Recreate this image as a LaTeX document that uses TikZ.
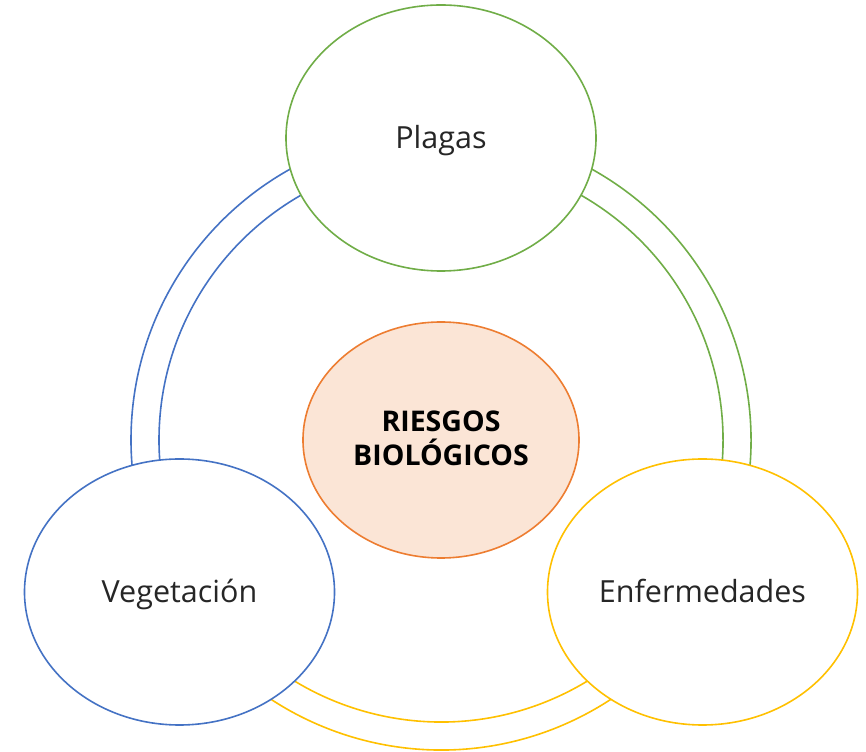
\documentclass[tikz,border=0pt]{standalone}
\usepackage{fontspec}
\setmainfont{Open Sans}
\usetikzlibrary{shapes.geometric,backgrounds}
\definecolor{cblue}{HTML}{4472C4}
\definecolor{cgreen}{HTML}{70AD47}
\definecolor{cyellow}{HTML}{FFC000}
\definecolor{corange}{HTML}{ED7D31}
\definecolor{cpeach}{HTML}{FBE5D6}
\begin{document}
\begin{tikzpicture}[x=1bp,y=1bp,
  outer/.style={ellipse,draw,fill=white,line width=1.6bp,inner sep=0pt,
    minimum width=310bp,minimum height=266bp,text=black!85,
    text height=21.5bp,text depth=0pt,
    font=\fontsize{30.5bp}{38bp}\selectfont},
  hub/.style={ellipse,draw=corange,fill=cpeach,line width=1.6bp,inner sep=0pt,
    minimum width=276bp,minimum height=236bp},
  hubtext/.style={font=\bfseries\fontsize{28.5bp}{34bp}\selectfont,align=center,
    anchor=base,inner sep=0pt,text=black},
  ringline/.style={line width=1.6bp}]
\path[use as bounding box] (0,0) rectangle (866,752);
\coordinate (ring) at (441,312);
\node[outer,draw=cgreen] (plagas) at (441,614) {Plagas};
\node[outer,draw=cblue] (veg) at (179.5,160) {Vegetación};
\node[outer,draw=cyellow] (enf) at (702.5,160) {Enfermedades};
\node[hub] (center) at (441,312) {};
\node[hubtext] (hubtext) at (441,286) {RIESGOS\\BIOLÓGICOS};
\begin{scope}[on background layer]
  \foreach \r in {282,310}{
    \draw[ringline,cblue] ([shift={(90:\r)}]ring) arc[start angle=90,end angle=210,radius=\r];
    \draw[ringline,cyellow] ([shift={(210:\r)}]ring) arc[start angle=210,end angle=330,radius=\r];
    \draw[ringline,cgreen] ([shift={(-30:\r)}]ring) arc[start angle=-30,end angle=90,radius=\r];
  }
\end{scope}
\end{tikzpicture}
\end{document}
